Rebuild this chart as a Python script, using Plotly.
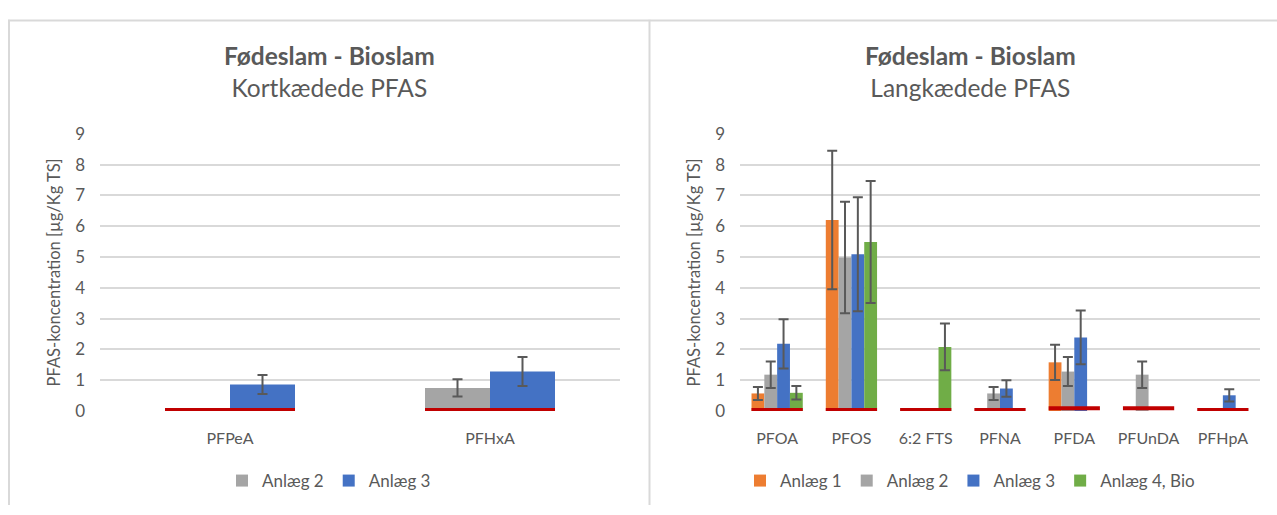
import plotly.graph_objects as go

W, H = 1277, 515

# ---- data -------------------------------------------------------------
short_cats = ["PFPeA", "PFHxA"]
short_anlaeg2 = [None, 0.75]
short_anlaeg2_err = [None, 0.28]
short_anlaeg3 = [0.86, 1.28]
short_anlaeg3_err = [0.31, 0.47]
short_lod = [0.03, 0.03]

long_cats = ["PFOA", "PFOS", "6:2 FTS", "PFNA", "PFDA", "PFUnDA", "PFHpA"]
long_anlaeg1 = [0.57, 6.20, None, None, 1.58, None, None]
long_anlaeg1_err = [0.21, 2.25, None, None, 0.57, None, None]
long_anlaeg2 = [1.18, 4.98, None, 0.57, 1.28, 1.18, None]
long_anlaeg2_err = [0.43, 1.81, None, 0.21, 0.47, 0.43, None]
long_anlaeg3 = [2.18, 5.09, None, 0.73, 2.39, None, 0.51]
long_anlaeg3_err = [0.80, 1.85, None, 0.27, 0.87, None, 0.20]
long_anlaeg4 = [0.59, 5.49, 2.08, None, None, None, None]
long_anlaeg4_err = [0.22, 1.98, 0.76, None, None, None, None]
long_lod = [0.03, 0.03, 0.03, 0.03, 0.09, 0.09, 0.03]

# ---- style ------------------------------------------------------------
FONT = "Lato"
TXT = "#595959"
GRID = "#D9D9D9"
C_ORANGE = "#ED7D31"
C_GRAY = "#A5A5A5"
C_BLUE = "#4472C4"
C_GREEN = "#70AD47"
C_LOD = "#C00000"
ERR = "#595959"

fig = go.Figure()


def add_bars(cats, series, group_frac, xaxis, yaxis, legend):
    n = len(series)
    w = group_frac / n
    x = list(range(len(cats)))
    for k, (name, vals, errs, color) in enumerate(series):
        fig.add_trace(go.Bar(
            x=x, y=vals, name=name, marker=dict(color=color, line=dict(width=0)),
            width=w, offset=-group_frac / 2 + k * w,
            error_y=dict(type="data", array=errs, color=ERR, thickness=2, width=5),
            xaxis=xaxis, yaxis=yaxis, legend=legend,
        ))


def add_lod(cats, lod, group_frac, xaxis, yaxis):
    xs, ys = [], []
    for i, v in enumerate(lod):
        xs += [i - group_frac / 2, i + group_frac / 2, None]
        ys += [v, v, None]
    fig.add_trace(go.Scatter(
        x=xs, y=ys, mode="lines", line=dict(color=C_LOD, width=4),
        showlegend=False, hoverinfo="skip", xaxis=xaxis, yaxis=yaxis,
    ))


SHORT_GROUP = 0.5
LONG_GROUP = 0.69

add_bars(short_cats, [
    ("Anlæg 2", short_anlaeg2, short_anlaeg2_err, C_GRAY),
    ("Anlæg 3", short_anlaeg3, short_anlaeg3_err, C_BLUE),
], SHORT_GROUP, "x", "y", "legend")
add_lod(short_cats, short_lod, SHORT_GROUP, "x", "y")

add_bars(long_cats, [
    ("Anlæg 1", long_anlaeg1, long_anlaeg1_err, C_ORANGE),
    ("Anlæg 2", long_anlaeg2, long_anlaeg2_err, C_GRAY),
    ("Anlæg 3", long_anlaeg3, long_anlaeg3_err, C_BLUE),
    ("Anlæg 4, Bio", long_anlaeg4, long_anlaeg4_err, C_GREEN),
], LONG_GROUP, "x2", "y2", "legend2")
add_lod(long_cats, long_lod, LONG_GROUP, "x2", "y2")

y_dom = [1 - 417 / H, 1 - 128 / H]


def xax(cats, dom):
    return dict(
        domain=dom, range=[-0.5, len(cats) - 0.5],
        tickmode="array", tickvals=list(range(len(cats))), ticktext=cats,
        showgrid=False, zeroline=False, showline=False, ticks="",
        ticklabelstandoff=16, tickfont=dict(family=FONT, size=16, color=TXT),
        fixedrange=True,
    )


def yax(anchor):
    return dict(
        domain=y_dom, range=[0, 9], dtick=1, anchor=anchor,
        showgrid=True, gridcolor=GRID, gridwidth=2, zeroline=False,
        showline=False, ticks="", ticklabelstandoff=14,
        tickfont=dict(family=FONT, size=17, color=TXT),
        title=dict(text="PFAS-koncentration [µg/Kg TS]", standoff=10,
                   font=dict(family=FONT, size=16.5, color=TXT)),
        fixedrange=True,
    )


legend_style = dict(
    orientation="h", xanchor="center", yanchor="middle", y=1 - 490 / H,
    font=dict(family=FONT, size=17, color=TXT), bgcolor="rgba(0,0,0,0)",
    itemclick=False, itemdoubleclick=False, itemwidth=30,
)

fig.update_layout(
    width=W, height=H, margin=dict(l=0, r=0, t=0, b=0),
    paper_bgcolor="white", plot_bgcolor="white",
    barmode="overlay", showlegend=True,
    font=dict(family=FONT, color=TXT),
    xaxis=dict(xax(short_cats, [100 / W, 620 / W]), anchor="y"),
    yaxis=yax("x"),
    xaxis2=dict(xax(long_cats, [740 / W, 1260 / W]), anchor="y2"),
    yaxis2=yax("x2"),
    legend=dict(legend_style, x=329 / W),
    legend2=dict(legend_style, x=970 / W),
)

# panel titles
for cx, sub in [(329, "Kortkædede PFAS"), (970, "Langkædede PFAS")]:
    fig.add_annotation(
        x=cx / W, y=1 - 63 / H, xref="paper", yref="paper",
        xanchor="center", yanchor="middle", showarrow=False,
        text="<b>Fødeslam - Bioslam</b><br>" + sub,
        font=dict(family=FONT, size=24.5, color=TXT),
    )

# panel frames
for shp in [
    dict(x0=8 / W, x1=1, y0=1 - 10 / H, y1=1 - 10 / H),
    dict(x0=9 / W, x1=9 / W, y0=0, y1=1 - 9 / H),
    dict(x0=649.5 / W, x1=649.5 / W, y0=0, y1=1 - 9 / H),
]:
    fig.add_shape(type="line", xref="paper", yref="paper",
                  line=dict(color=GRID, width=2), **shp)

fig.write_html(
    "out.html",
    config={"displayModeBar": False},
    post_script="document.body.style.margin='0';document.body.style.overflow='hidden';",
)
